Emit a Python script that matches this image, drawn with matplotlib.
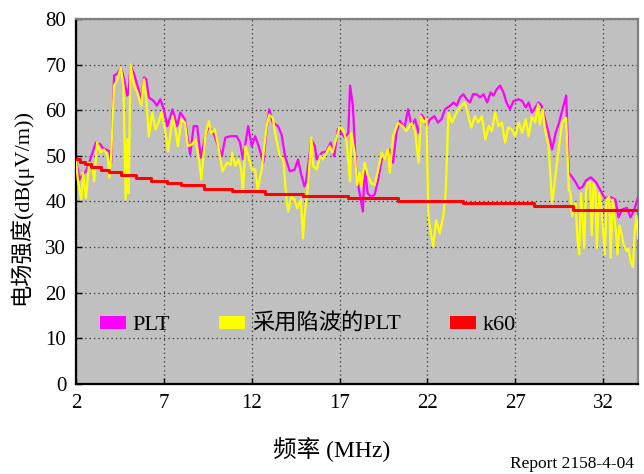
import matplotlib
matplotlib.use('Agg')
import matplotlib.pyplot as plt
from matplotlib.patches import Patch

# Données
plt_freq = [2.0, 2.2, 2.4, 2.57, 2.75, 3.13, 3.4, 3.5, 3.9, 4.0, 4.17, 4.36, 4.55, 4.74, 4.92, 5.0,
            5.1, 5.3, 5.5, 5.7, 5.87, 6.0, 6.15, 6.43, 6.6, 6.8, 7.0, 7.2, 7.5, 7.75, 7.94, 8.2,
            8.5, 8.7, 8.9, 9.1, 9.36, 9.55, 9.83, 10.1, 10.3, 10.5, 10.8, 11.15, 11.34, 11.5, 11.8,
            12.0, 12.2, 12.4, 12.66, 12.85, 13.0, 13.2, 13.5, 13.7, 13.9, 14.17, 14.45, 14.64, 14.8,
            15.0, 15.1, 15.4, 15.6, 15.7, 16.0, 16.25, 16.5, 16.7, 16.9, 17.1, 17.3, 17.5, 17.6,
            17.76, 17.95, 18.14, 18.33, 18.43, 18.6, 18.8, 19.0, 19.2, 19.4, 19.67, 19.86, 20.05,
            20.24, 20.43, 20.7, 20.9, 21.1, 21.3, 21.5, 21.67, 21.8, 21.95, 22.15, 22.4, 22.6, 22.8,
            23.0, 23.3, 23.5, 23.67, 23.86, 24.05, 24.24, 24.43, 24.6, 24.8, 25.0, 25.2, 25.4, 25.6,
            25.76, 25.95, 26.14, 26.33, 26.5, 26.7, 26.9, 27.2, 27.4, 27.6, 27.76, 27.95, 28.14,
            28.33, 28.5, 28.7, 28.9, 29.1, 29.3, 29.5, 29.67, 29.9, 30.05, 30.25, 30.44, 30.64,
            30.83, 31.03, 31.3, 31.6, 31.8, 32.1, 32.4, 32.7, 32.88, 33.07, 33.36, 33.56, 33.75, 34.0]
plt_level = [49.2, 44.8, 46, 46.6, 48.5, 52.9, 52.5, 51.8, 51, 48.5, 67.6, 68, 69.4, 66.8, 63.2, 64,
             69.8, 68, 65.4, 62.4, 67.2, 66.8, 62.8, 62, 61, 62.4, 60.2, 56.5, 60.2, 56.5, 59.5, 58,
             50.3, 56.5, 56.5, 49.6, 54.3, 56.5, 55, 52.1, 49.9, 54, 54.3, 54.3, 52.9, 49.2, 56.5,
             52.1, 54.3, 52.1, 48.5, 55.8, 60.2, 57.3, 56.5, 54.7, 49.9, 46.6, 47, 49.2, 46.2,
             43.3, 44.4, 53.6, 52.1, 49.2, 50.7, 51, 52.9, 49.9, 55.8, 55, 54, 55, 65.4,
             61, 46.3, 41.8, 37.8, 47.6, 41.8, 41, 41.5, 44.8, 49.2, 50, 51.4, 48.5,
             55, 57.7, 56.2, 60.2, 56.5, 58, 55, 59, 58.3, 56.5, 58, 58.7, 57.3, 58,
             60.2, 61, 61.7, 61, 62.8, 63.5, 62.4, 61.7, 63.5, 63.5, 62.8, 63.5, 61.7, 63.9,
             63.2, 64.6, 65.4, 63.9, 61.7, 60.2, 62, 62.4, 62, 60.6, 61.7, 59.5, 60.6,
             61.7, 61, 58, 55, 51.4, 55, 57.3, 59.9, 63.2, 46.3, 45.3, 44.2, 42.8,
             43.2, 44.6, 45.3, 44.2, 42.8, 40.7, 41, 40.4, 36.5, 38.2, 38.6, 36.5, 37.9, 41]

notch_freq = [2.0, 2.1, 2.2, 2.3, 2.4, 2.57, 2.75, 2.94, 3.04, 3.2, 3.4, 3.6, 3.8, 3.9, 4.0, 4.17,
              4.36, 4.55, 4.7, 4.83, 4.92, 5.0, 5.1, 5.3, 5.5, 5.7, 5.87, 6.0, 6.15, 6.34, 6.53,
              6.7, 6.87, 7.1, 7.25, 7.5, 7.66, 7.8, 8.0, 8.2, 8.37, 8.6, 8.8, 9.0, 9.13, 9.36, 9.55,
              9.7, 9.9, 10.1, 10.34, 10.6, 10.8, 10.9, 11.06, 11.25, 11.4, 11.5, 11.64, 11.8, 12.0,
              12.2, 12.34, 12.57, 12.85, 13.0, 13.2, 13.4, 13.6, 13.8, 13.98, 14.08, 14.26, 14.45,
              14.6, 14.8, 14.92, 15.0, 15.2, 15.4, 15.5, 15.7, 15.9, 16.05, 16.25, 16.45, 16.6, 16.8,
              17.0, 17.2, 17.4, 17.6, 17.67, 17.86, 18.0, 18.14, 18.24, 18.43, 18.6, 18.8, 19.0,
              19.2, 19.4, 19.57, 19.76, 19.86, 20.05, 20.33, 20.6, 20.8, 21.1, 21.3, 21.5, 21.63,
              21.8, 21.95, 22.05, 22.2, 22.33, 22.5, 22.7, 22.9, 23.04, 23.2, 23.4, 23.57, 23.76,
              23.95, 24.14, 24.33, 24.5, 24.7, 24.9, 25.1, 25.3, 25.5, 25.67, 25.86, 26.05, 26.24,
              26.43, 26.6, 26.8, 27.0, 27.2, 27.4, 27.6, 27.76, 27.95, 28.14, 28.3, 28.4, 28.56,
              28.7, 28.9, 29.1, 29.4, 29.67, 29.9, 30.05, 30.15, 30.25, 30.35, 30.44, 30.54, 30.64,
              30.74, 30.83, 30.93, 31.03, 31.12, 31.26, 31.36, 31.46, 31.57, 31.65, 31.77, 31.9,
              32.0, 32.1, 32.2, 32.35, 32.43, 32.55, 32.64, 32.74, 32.82, 32.93, 33.07, 33.17,
              33.26, 33.36, 33.46, 33.56, 33.7, 33.8, 33.9, 34.0]
notch_level = [49, 44.8, 42.6, 40.4, 46.3, 40.7, 48.5, 47.8, 44.4, 52.9, 50.7, 51.4, 50, 45.2, 50, 65.4,
               66.8, 69.4, 65.4, 40.4, 53.6, 41.8, 70, 65.4, 63.9, 61, 66.8, 62.4, 54.3, 59.5, 55.8,
               57.3, 59.5, 55, 51, 58.7, 55.8, 52.1, 58, 57.3, 52.1, 52.5, 53.6, 49.2, 44.8, 54.3, 57.6,
               55, 55.8, 52.1, 46.6, 48.5, 48, 50.7, 47.8, 49.2, 47, 41.8, 52.1, 50, 47,
               47, 42.6, 47, 56.5, 59, 58.3, 53.6, 50, 49.2, 40.4, 37.8, 41.1, 40.4,
               38.5, 40.4, 31.9, 36.7, 43.3, 54, 47.8, 47, 50, 49.2, 50.7, 52.1, 50.7, 53.6,
               56.2, 55.8, 53.2, 44.4, 55, 50.7, 43.6, 46.3, 43.3, 48.5, 45.9, 44, 43.6,
               47, 50.7, 49.2, 51.4, 46.3, 54.3, 57.2, 56.5, 55.4, 57.2, 55.4, 48.5, 58.7,
               57.3, 58, 37.4, 33, 30.2, 35.9, 33, 36.7, 41.8, 59.4, 57.3, 58.7, 60.2,
               61, 61.7, 58.7, 56.2, 58.7, 57.3, 58.7, 53.6, 56.5, 55.4, 59.5, 56.5, 57.3,
               52.9, 56.2, 55.8, 54.3, 57.3, 55, 58, 54.3, 58.7, 57.3, 61.3, 56.9, 60.2,
               55.8, 52.1, 39.6, 49.2, 57.3, 58.3, 42.6, 41.8, 36.8, 38.2, 39.6, 31.9, 28.4,
               41.8, 36.8, 29.8, 42.5, 43.9, 44.2, 32.6, 43.9, 42.5, 29.8, 41.8, 38.9,
               33.3, 28.4, 40.4, 41, 27.7, 40.4, 36.8, 33.3, 28.4, 34.7, 32.6, 30.5,
               29.8, 29.1, 29.8, 27, 25.6, 33.3, 36.8, 31.9]

k60_freq = [2.0, 2.2, 2.5, 2.85, 3.4, 3.9, 4.55, 5.4, 6.25, 7.2, 7.95, 9.26, 10.87, 12.75, 14.9,
            17.5, 20.3, 24.0, 28.05, 30.3, 34.0]
k60_level = [49.2, 48.7, 48.1, 47.5, 47.0, 46.4, 45.8, 45.2, 44.5, 44.0, 43.5, 42.8, 42.3, 41.7, 41.3,
             40.7, 40.1, 39.6, 38.9, 38.2, 38.2]

series_names = ['PLT', '采用陷波的PLT', 'k60']
x_ticks = [2, 7, 12, 17, 22, 27, 32]
y_ticks = [0, 10, 20, 30, 40, 50, 60, 70, 80]

plt.rcParams['font.family'] = ['Liberation Serif', 'Noto Sans CJK SC', 'DejaVu Sans']

fig = plt.figure(figsize=(6.44, 4.74), dpi=100)
ax = fig.add_axes([0.118, 0.19, 0.873, 0.77])
ax.set_facecolor('#C0C0C0')

ax.plot(plt_freq, plt_level, color='#FF00FF', lw=1.6, zorder=3)
ax.plot(notch_freq, notch_level, color='#FFFF00', lw=1.6, zorder=4)
ax.plot(k60_freq, k60_level, color='#FF0000', lw=2.2, drawstyle='steps-post', zorder=5)

ax.set_xlim(2, 34)
ax.set_ylim(0, 80)
ax.set_xticks(x_ticks)
ax.set_yticks(y_ticks)
ax.tick_params(labelsize=15, length=4, width=1, direction='in', pad=7)
ax.grid(True, color='#333333', linestyle=(0, (1, 2.5)), linewidth=0.9, zorder=1)

for side in ['left', 'bottom']:
    ax.spines[side].set_color('black')
    ax.spines[side].set_linewidth(1.6)
for side in ['top', 'right']:
    ax.spines[side].set_color('#808080')
    ax.spines[side].set_linewidth(1.6)

ax.set_xlabel('频率 (MHz)', fontsize=17)
ax.xaxis.set_label_coords(0.455, -0.145)
ax.set_ylabel('电场强度(dB(μV/m))', fontsize=16)
ax.yaxis.set_label_coords(-0.077, 0.485)

colors = ['#FF00FF', '#FFFF00', '#FF0000']
handles = [Patch(facecolor=c, edgecolor='none') for c in colors]
ax.legend(handles, series_names, ncol=3, frameon=False, fontsize=16,
          loc='center left', bbox_to_anchor=(0.043, 0.1625), borderpad=0, borderaxespad=0,
          handlelength=1.17, handleheight=0.5, handletextpad=0.3, columnspacing=2.2)

fig.text(0.985, 0.005, 'Report 2158-4-04', ha='right', va='bottom', fontsize=12.5)

plt.savefig('out.png', dpi=100)
